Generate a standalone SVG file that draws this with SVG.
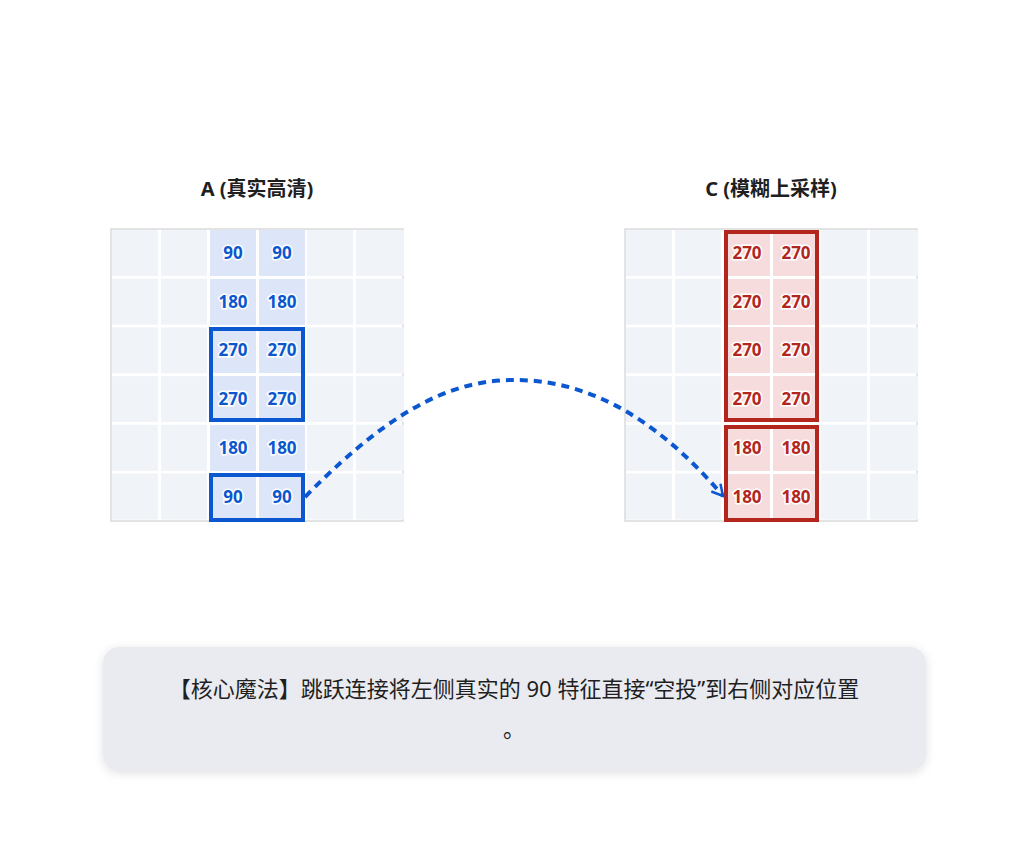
<svg xmlns="http://www.w3.org/2000/svg" width="1028" height="859" viewBox="0 0 1028 859">
<style>
.t{font-family:"Noto Sans","Noto Sans CJK SC",sans-serif;font-weight:bold;font-size:20px;fill:#1f1f1f;text-anchor:middle}
.bg{fill:#f0f3f8}
.cb{fill:#dde6f8}
.cr{fill:#f7dcdd}
.nb{font-family:"Noto Sans",sans-serif;font-weight:bold;font-size:17px;fill:#0b57d0;text-anchor:middle;stroke:#fff;stroke-width:3;paint-order:stroke}
.nr{font-family:"Noto Sans",sans-serif;font-weight:bold;font-size:17px;fill:#b3261e;text-anchor:middle;stroke:#fff;stroke-width:3;paint-order:stroke}
.hb{fill:none;stroke:#0b57d0;stroke-width:4}
.hr{fill:none;stroke:#b3261e;stroke-width:4}
.cap{font-family:"Noto Sans","Noto Sans CJK SC",sans-serif;font-size:22px;fill:#1f1f1f;text-anchor:middle}
</style>
<defs>
<filter id="sh" x="-5%" y="-20%" width="110%" height="140%"><feDropShadow dx="0" dy="2" stdDeviation="5" flood-color="#000" flood-opacity="0.12"/></filter>
<marker id="ah" markerWidth="14" markerHeight="14" refX="12" refY="7" orient="auto" markerUnits="userSpaceOnUse"><path d="M1,1 L12,7 L1,13" fill="none" stroke="#0b57d0" stroke-width="2.5"/></marker>
<g id="row6"><rect x="0" y="0" width="46" height="46" class="bg"/><rect x="49" y="0" width="46" height="46" class="bg"/><rect x="195" y="0" width="46" height="46" class="bg"/><rect x="244" y="0" width="48" height="46" class="bg"/></g>
</defs>
<rect width="1028" height="859" fill="#fff"/>
<g id="gridA">
<text class="t" x="257" y="196">A (真实高清)</text>
<rect x="111" y="229" width="292" height="292" fill="#fff" stroke="#c8c8c8"/>
<g transform="translate(112,230)">
<use href="#row6"/><use href="#row6" y="48.7"/><use href="#row6" y="97.4"/><use href="#row6" y="146.1"/><use href="#row6" y="194.8"/><use href="#row6" y="243.5"/>
</g>
<g class="cb">
<rect x="210" y="230" width="46" height="46"/><rect x="259" y="230" width="46" height="46"/>
<rect x="210" y="279" width="46" height="46"/><rect x="259" y="279" width="46" height="46"/>
<rect x="210" y="327" width="46" height="46"/><rect x="259" y="327" width="46" height="46"/>
<rect x="210" y="376" width="46" height="46"/><rect x="259" y="376" width="46" height="46"/>
<rect x="210" y="425" width="46" height="46"/><rect x="259" y="425" width="46" height="46"/>
<rect x="210" y="474" width="46" height="46"/><rect x="259" y="474" width="46" height="46"/>
</g>
<g class="nb">
<text x="233" y="259">90</text><text x="282" y="259">90</text>
<text x="233" y="308">180</text><text x="282" y="308">180</text>
<text x="233" y="356">270</text><text x="282" y="356">270</text>
<text x="233" y="405">270</text><text x="282" y="405">270</text>
<text x="233" y="454">180</text><text x="282" y="454">180</text>
<text x="233" y="503">90</text><text x="282" y="503">90</text>
</g>
<rect class="hb" x="211" y="329" width="92" height="91"/>
<rect class="hb" x="211" y="475" width="92" height="45"/>
</g>
<g id="gridC">
<text class="t" x="771" y="196">C (模糊上采样)</text>
<rect x="625" y="229" width="292" height="292" fill="#fff" stroke="#c8c8c8"/>
<g transform="translate(626,230)">
<use href="#row6"/><use href="#row6" y="48.7"/><use href="#row6" y="97.4"/><use href="#row6" y="146.1"/><use href="#row6" y="194.8"/><use href="#row6" y="243.5"/>
</g>
<g class="cr">
<rect x="724" y="230" width="46" height="46"/><rect x="773" y="230" width="46" height="46"/>
<rect x="724" y="279" width="46" height="46"/><rect x="773" y="279" width="46" height="46"/>
<rect x="724" y="327" width="46" height="46"/><rect x="773" y="327" width="46" height="46"/>
<rect x="724" y="376" width="46" height="46"/><rect x="773" y="376" width="46" height="46"/>
<rect x="724" y="425" width="46" height="46"/><rect x="773" y="425" width="46" height="46"/>
<rect x="724" y="474" width="46" height="46"/><rect x="773" y="474" width="46" height="46"/>
</g>
<g class="nr">
<text x="747" y="259">270</text><text x="796" y="259">270</text>
<text x="747" y="308">270</text><text x="796" y="308">270</text>
<text x="747" y="356">270</text><text x="796" y="356">270</text>
<text x="747" y="405">270</text><text x="796" y="405">270</text>
<text x="747" y="454">180</text><text x="796" y="454">180</text>
<text x="747" y="503">180</text><text x="796" y="503">180</text>
</g>
<rect class="hr" x="726" y="232" width="91" height="188"/>
<rect class="hr" x="726" y="427" width="91" height="93"/>
</g>
<g id="connectors">
<path d="M305,497 C400,400 460,380 515,380 C580,380 650,410 723,496" fill="none" stroke="#0b57d0" stroke-width="4" stroke-dasharray="8,6" marker-end="url(#ah)"/>
</g>
<g id="caption">
<rect x="103" y="647" width="823" height="124" rx="16" fill="#eaebf0" filter="url(#sh)"/>
<text class="cap" x="514" y="697">【核心魔法】跳跃连接将左侧真实的 90 特征直接“空投”到右侧对应位置</text>
<text class="cap" x="514" y="737">。</text>
</g>
</svg>
